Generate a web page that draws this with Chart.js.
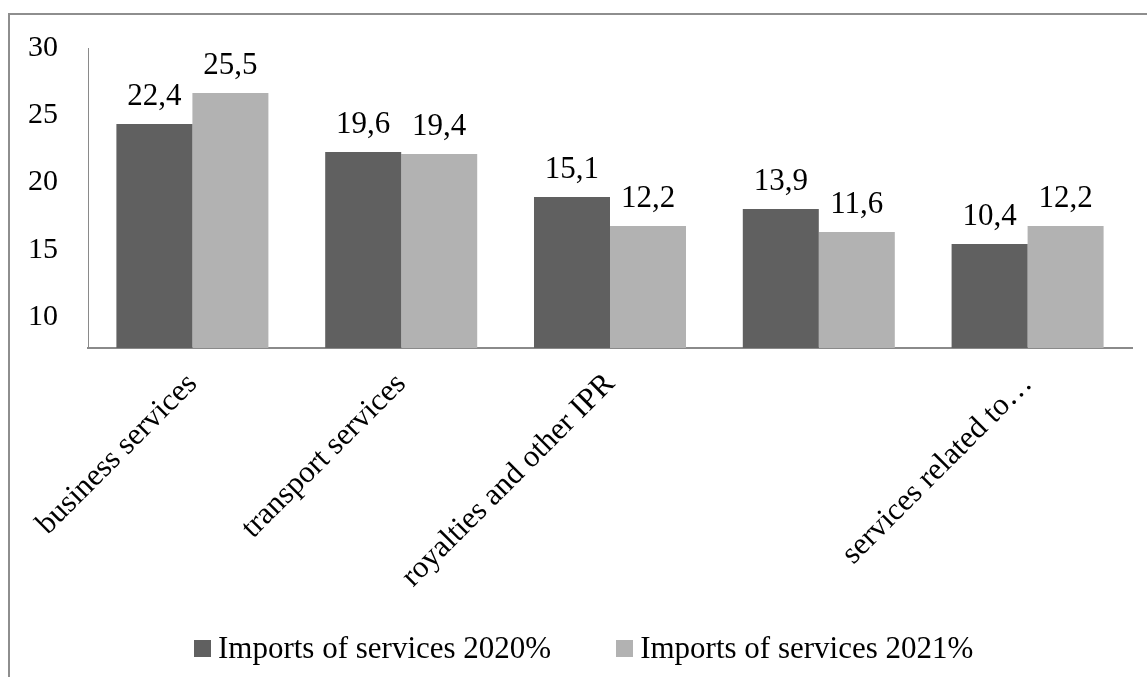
<!DOCTYPE html>
<html>
<head>
<meta charset="utf-8">
<script src="https://cdn.jsdelivr.net/npm/chart.js@4.4.1/dist/chart.umd.min.js"></script>
<style>
  html, body {
    margin: 0;
    padding: 0;
    background: #fff;
    overflow: hidden;
  }
  .frame {
    position: absolute;
    left: 8px;
    top: 13px;
    width: 1200px;
    height: 720px;
    border: 2px solid #8e8e8e;
  }
  .chart-box {
    position: absolute;
    left: 0;
    top: 0;
    width: 1147px;
    height: 677px;
  }
  #legend {
    position: absolute;
    left: 194px;
    top: 630px;
    display: flex;
    align-items: center;
    font-family: "Liberation Serif", "Times New Roman", serif;
    font-size: 31px;
    color: #000;
    white-space: nowrap;
  }
  #legend .item {
    display: flex;
    align-items: center;
    margin-right: 65px;
  }
  #legend .swatch {
    width: 17px;
    height: 17px;
    margin-right: 7px;
  }
</style>
</head>
<body>
<div class="frame"></div>
<div class="chart-box"><canvas id="servicesChart" width="1147" height="677"></canvas></div>
<div id="legend"></div>

<script>
const categories = [
  "business services",
  "transport services",
  "royalties and other IPR",
  "",
  "services related to…",
];
const imports2020 = [22.4, 19.6, 15.1, 13.9, 10.4];
const imports2021 = [25.5, 19.4, 12.2, 11.6, 12.2];
const seriesNames = ["Imports of services 2020%", "Imports of services 2021%"];
const tickValues = [10, 15, 20, 25, 30];

const colors = ["#606060", "#b2b2b2"];
const serif = "'Liberation Serif', 'Times New Roman', serif";

// value labels above each bar, written with a decimal comma
const barLabels = {
  id: "barLabels",
  afterDatasetsDraw(chart) {
    const { ctx } = chart;
    ctx.save();
    ctx.font = `31px ${serif}`;
    ctx.fillStyle = "#000";
    ctx.textAlign = "center";
    ctx.textBaseline = "alphabetic";
    chart.data.datasets.forEach((ds, i) => {
      chart.getDatasetMeta(i).data.forEach((bar, j) => {
        const text = ds.data[j].toFixed(1).replace(".", ",");
        ctx.fillText(text, bar.x, bar.y - 19);
      });
    });
    ctx.restore();
  },
};

const ctx = document.getElementById("servicesChart").getContext("2d");

const chart = new Chart(ctx, {
  type: "bar",
  data: {
    labels: categories,
    datasets: [
      {
        label: seriesNames[0],
        data: imports2020,
        backgroundColor: colors[0],
        yAxisID: "y",
      },
      {
        label: seriesNames[1],
        data: imports2021,
        backgroundColor: colors[1],
        yAxisID: "y",
      },
    ],
  },
  options: {
    responsive: false,
    animation: false,
    layout: {
      padding: { left: 0, top: 48, right: 15, bottom: 0 },
    },
    datasets: {
      bar: {
        categoryPercentage: 0.728,
        barPercentage: 1,
      },
    },
    plugins: {
      legend: { display: false },
      tooltip: { enabled: false },
    },
    scales: {
      x: {
        grid: { display: false },
        border: { color: "#8a8a8a", width: 2 },
        ticks: {
          color: "#000",
          font: { family: serif, size: 31 },
          minRotation: 45,
          maxRotation: 45,
          autoSkip: false,
          padding: 10,
        },
        afterFit(scale) {
          scale.height = 329;
        },
      },
      // scale the bars are drawn on
      y: {
        display: false,
        min: 0,
        max: 30,
      },
      // labelled axis on the left
      yTicks: {
        axis: "y",
        position: "left",
        min: 7.7,
        max: 30,
        grid: { display: false, drawTicks: false },
        border: { color: "#8a8a8a", width: 1 },
        ticks: {
          color: "#000",
          font: { family: serif, size: 30 },
          padding: 30,
        },
        afterBuildTicks(scale) {
          scale.ticks = tickValues.map((v) => ({ value: v }));
        },
        afterFit(scale) {
          scale.width = 88;
        },
      },
    },
  },
  plugins: [barLabels],
});

// legend row under the chart
const legendEl = document.getElementById("legend");
seriesNames.forEach((name, i) => {
  const item = document.createElement("div");
  item.className = "item";
  const swatch = document.createElement("span");
  swatch.className = "swatch";
  swatch.style.background = colors[i];
  const text = document.createElement("span");
  text.textContent = name;
  item.appendChild(swatch);
  item.appendChild(text);
  legendEl.appendChild(item);
});
</script>
</body>
</html>
